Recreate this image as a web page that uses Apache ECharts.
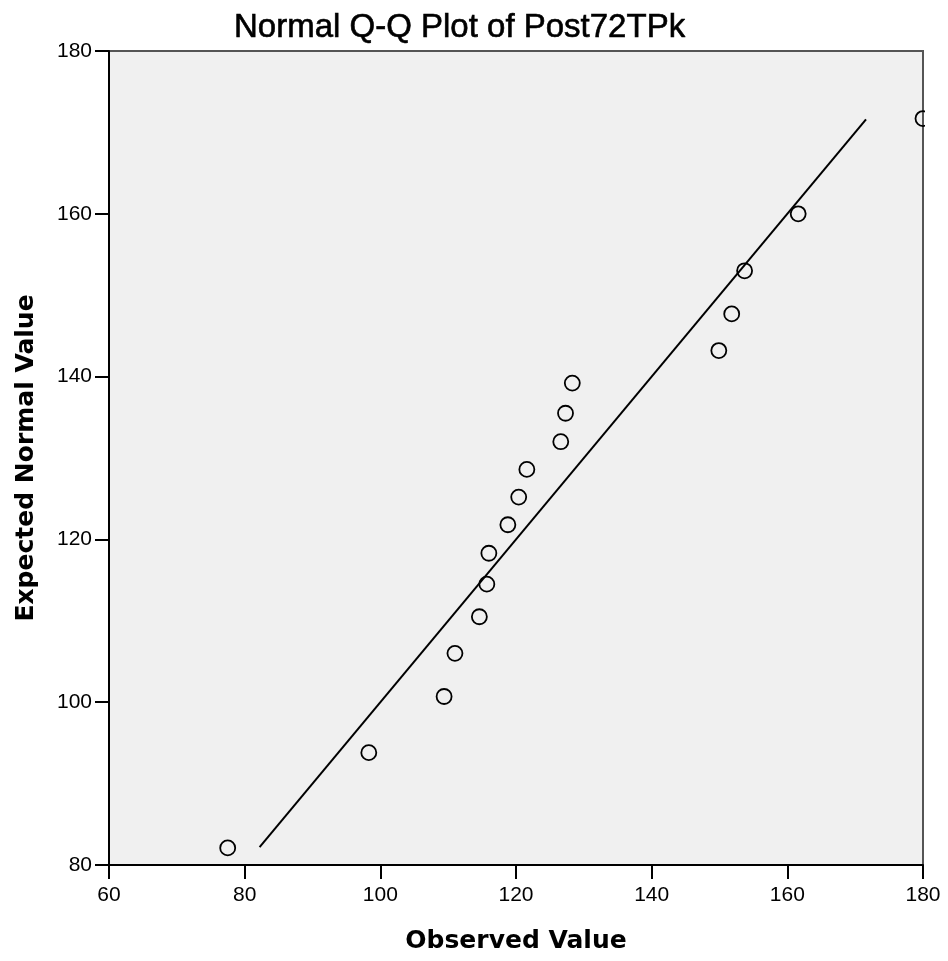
<!DOCTYPE html>
<html>
<head>
<meta charset="utf-8">
<script src="https://cdn.jsdelivr.net/npm/echarts@6/dist/echarts.min.js"></script>
<style>html,body{margin:0;padding:0;background:#fff}#c{width:948px;height:961px}</style>
</head>
<body>
<div id="c"></div>
<script>
const titleText = "Normal Q-Q Plot of Post72TPk";
const xAxisName = "Observed Value";
const yAxisName = "Expected Normal Value";
const observed = [77.5, 98.3, 109.4, 111.0, 114.6, 115.7, 116.0, 118.8, 120.4, 121.6, 126.6, 127.3, 128.3, 149.9, 151.8, 153.7, 161.6, 180.0];
const expected = [82.1, 93.8, 100.7, 106.0, 110.5, 114.5, 118.3, 121.8, 125.2, 128.6, 132.0, 135.5, 139.2, 143.2, 147.7, 153.0, 160.0, 171.7];
const refLineX = [82.2, 171.6];
const refLineY = [82.2, 171.6];
const xTicks = [60, 80, 100, 120, 140, 160, 180];
const yTicks = [80, 100, 120, 140, 160, 180];

const pts = observed.map((v, i) => [v, expected[i]]);
const linePts = refLineX.map((v, i) => [v, refLineY[i]]);

const chart = echarts.init(document.getElementById('c'), null, {renderer: 'canvas'});
chart.setOption({
  backgroundColor: '#ffffff',
  animation: false,
  title: {
    text: titleText,
    left: 229, top: 6,
    textStyle: {fontFamily: 'Liberation Sans', fontSize: 33, fontWeight: 'normal', color: '#000',
      textBorderColor: '#000', textBorderWidth: 0.6}
  },
  grid: {
    left: 109, right: 25, top: 51, bottom: 96,
    outerBoundsMode: 'none', containLabel: false,
    show: true, backgroundColor: '#f0f0f0', borderColor: '#555', borderWidth: 2
  },
  xAxis: {
    type: 'value', min: xTicks[0], max: xTicks[xTicks.length - 1], interval: 20,
    name: xAxisName, nameLocation: 'middle', nameGap: 64,
    nameTextStyle: {fontFamily: 'DejaVu Sans', fontWeight: 'bold', fontSize: 25, color: '#000'},
    axisLine: {show: true, lineStyle: {color: '#000', width: 2}},
    axisTick: {show: true, length: 14, lineStyle: {color: '#000', width: 2}},
    axisLabel: {margin: 20, fontFamily: 'Liberation Sans', fontSize: 21, color: '#000'},
    splitLine: {show: false}
  },
  yAxis: {
    type: 'value', min: yTicks[0], max: yTicks[yTicks.length - 1], interval: 20,
    name: yAxisName, nameLocation: 'middle', nameGap: 70, nameRotate: 90,
    nameTextStyle: {fontFamily: 'DejaVu Sans', fontWeight: 'bold', fontSize: 25, color: '#000'},
    axisLine: {show: true, lineStyle: {color: '#000', width: 2}},
    axisTick: {show: true, length: 14, lineStyle: {color: '#000', width: 2}},
    axisLabel: {margin: 17, fontFamily: 'Liberation Sans', fontSize: 21, color: '#000'},
    splitLine: {show: false}
  },
  graphic: [{
    type: 'rect', z: 100,
    shape: {x: 925, y: 40, width: 30, height: 120},
    style: {fill: '#ffffff'}
  }],
  series: [
    {
      type: 'line', data: linePts, showSymbol: false, symbol: 'none',
      lineStyle: {color: '#000', width: 2}, z: 3
    },
    {
      type: 'scatter', data: pts, symbol: 'circle', symbolSize: 15,
      itemStyle: {color: 'rgba(0,0,0,0)', borderColor: '#000', borderWidth: 1.8, opacity: 1},
      z: 4, clip: false
    }
  ]
});
</script>
</body>
</html>
